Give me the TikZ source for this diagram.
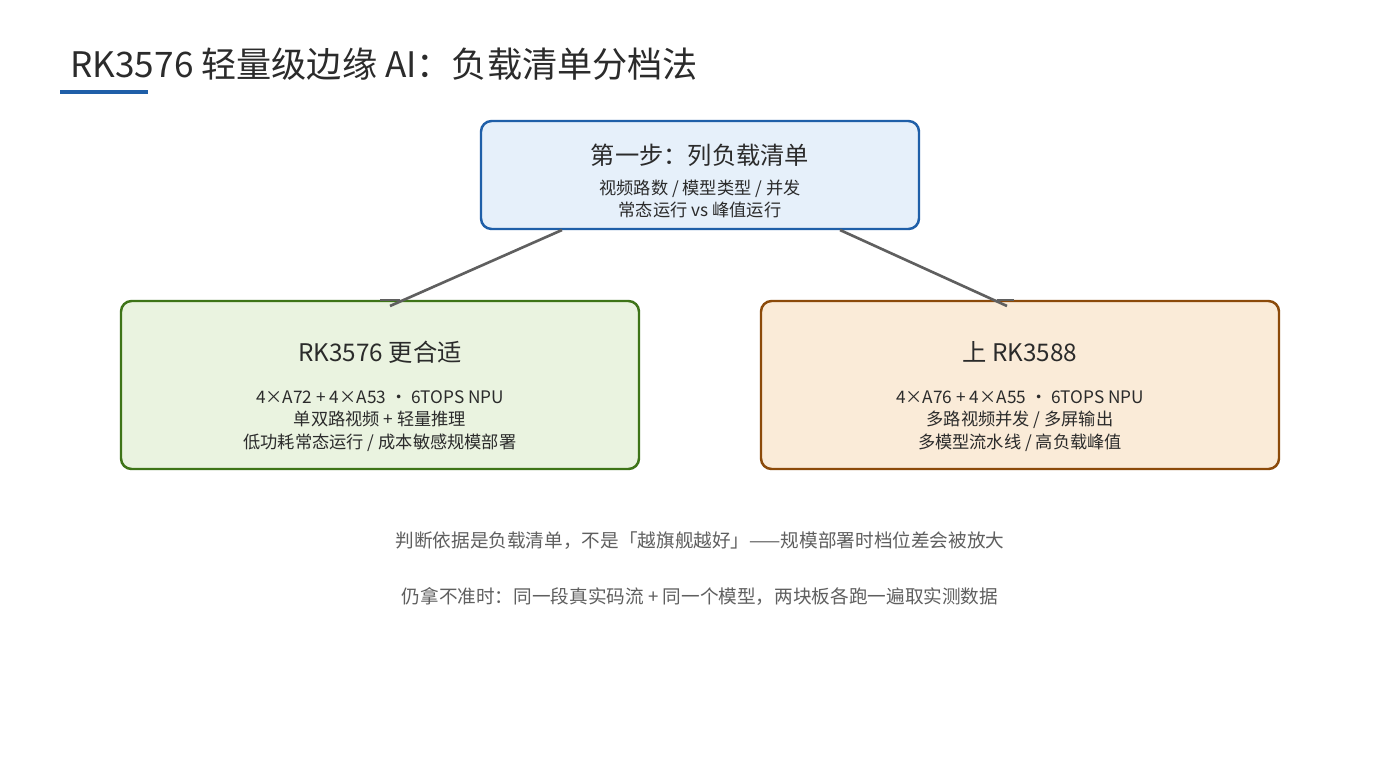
\documentclass[tikz,border=0pt]{standalone}
\usepackage{fontspec}
\setmainfont{Noto Sans CJK SC}
\definecolor{tx}{HTML}{2B2B2B}
\definecolor{gy}{HTML}{5F5F5F}
\definecolor{bb}{HTML}{1F5FA8}\definecolor{bf}{HTML}{E6F0FA}
\definecolor{gb}{HTML}{3E7418}\definecolor{gf}{HTML}{EAF3E0}
\definecolor{ob}{HTML}{8B4A0A}\definecolor{of}{HTML}{FAEBD8}
\begin{document}
\begin{tikzpicture}[x=0.01cm,y=-0.01cm,
 box/.style={draw=#1,line width=0.7pt,rounded corners=3pt},
 ttl/.style={font=\fontsize{6.9pt}{8pt}\selectfont,text=tx},
 sub/.style={font=\fontsize{4.9pt}{6.5pt}\selectfont,text=tx,align=center},
 note/.style={font=\fontsize{5.3pt}{6.5pt}\selectfont,text=gy},
 con/.style={draw=gy,line width=0.75pt}]
\useasboundingbox[fill=white] (0,0) rectangle (1400,760);
\node[anchor=west,font=\fontsize{10pt}{12pt}\selectfont,text=tx] (title) at (58,64) {RK3576 轻量级边缘 AI：负载清单分档法};
\fill[bb] (60,90) rectangle (148,94);
\draw[box=bb,fill=bf] (481,121) rectangle (919,229);
\node[ttl] (t1) at (700,155) {第一步：列负载清单};
\node[sub] (s1) at (700,199) {视频路数 / 模型类型 / 并发\\常态运行 vs 峰值运行};
\draw[box=gb,fill=gf] (121,301) rectangle (639,469);
\node[ttl] (t2) at (380,352) {RK3576 更合适};
\node[sub] (s2) at (380,421) {4×A72 + 4×A53 · 6TOPS NPU\\单双路视频 + 轻量推理\\低功耗常态运行 / 成本敏感规模部署};
\draw[box=ob,fill=of] (761,301) rectangle (1279,469);
\node[ttl] (t3) at (1020,352) {上 RK3588};
\node[sub] (s3) at (1020,421) {4×A76 + 4×A55 · 6TOPS NPU\\多路视频并发 / 多屏输出\\多模型流水线 / 高负载峰值};
\coordinate (a1) at (562,230); \coordinate (b1) at (390,306);
\coordinate (a2) at (840,230); \coordinate (b2) at (1007,306);
\draw[con] (a1) -- (b1);
\draw[con] (a2) -- (b2);
\coordinate (c1) at (380,300); \coordinate (d1) at (400,300);
\coordinate (c2) at (997,300); \coordinate (d2) at (1014,300);
\draw[con] (c1) -- (d1); \draw[con] (c2) -- (d2);
\node[note] (n1) at (700,541) {判断依据是负载清单，不是「越旗舰越好」——规模部署时档位差会被放大};
\node[note] (n2) at (700,596) {仍拿不准时：同一段真实码流 + 同一个模型，两块板各跑一遍取实测数据};
\end{tikzpicture}
\end{document}
